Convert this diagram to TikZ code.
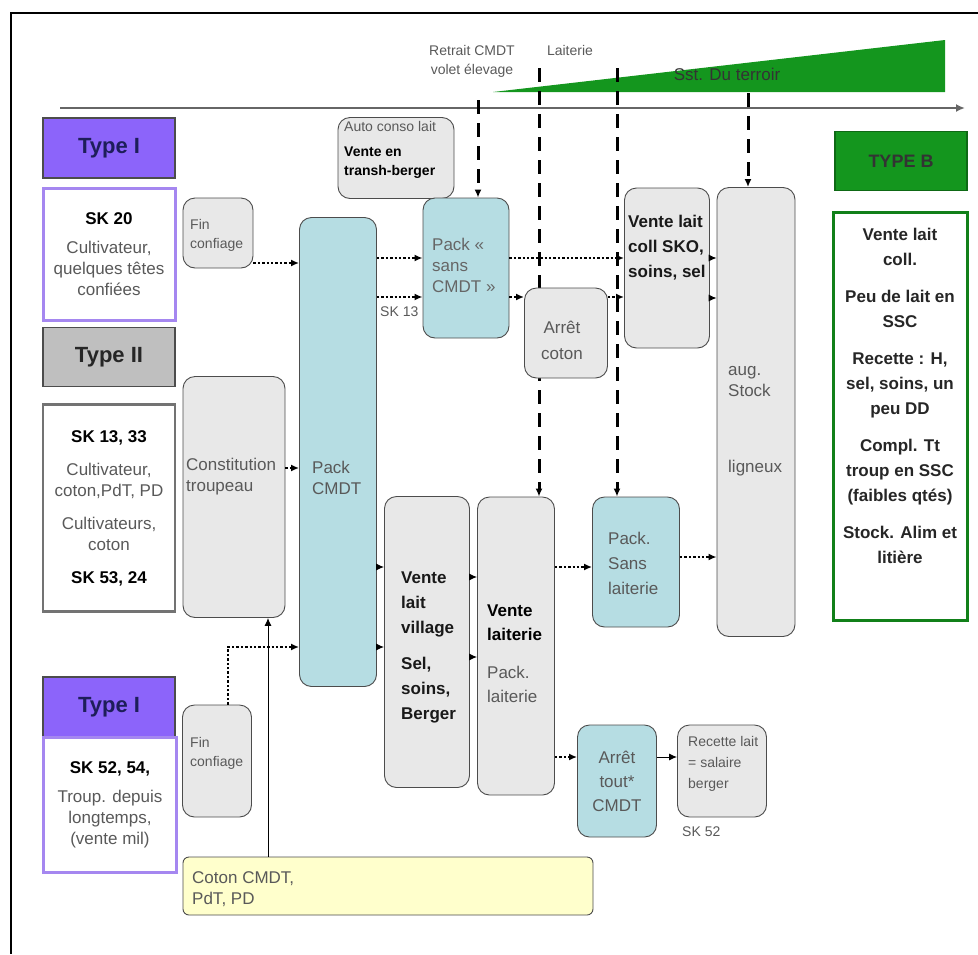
\documentclass[tikz,border=0pt]{standalone}
\usepackage{fontspec}
\setmainfont{Liberation Sans}
\usetikzlibrary{arrows.meta,positioning,calc}
\definecolor{gr}{RGB}{232,232,232}
\definecolor{te}{RGB}{182,221,227}
\definecolor{pu}{RGB}{140,100,250}
\definecolor{pl}{RGB}{165,135,240}
\definecolor{gn}{RGB}{20,150,30}
\definecolor{ye}{RGB}{255,255,204}
\definecolor{nv}{RGB}{30,30,90}
\newcommand{\skb}[1]{{\color{black}\bfseries #1}}

\begin{document}
\begin{tikzpicture}[x=1pt,y=-1pt,
    box/.style={draw=black!70, line width=0.9pt, rounded corners=12pt, inner sep=0pt},
    gbox/.style={box, fill=gr},
    tbox/.style={box, fill=te},
    hd/.style={draw=black!70, line width=1.4pt, font=\fontsize{22}{26}\selectfont\bfseries, text=nv},
    txt/.style={font=\fontsize{17}{21}\selectfont, text=black!65, align=left, inner sep=0pt},
    bold/.style={font=\fontsize{17}{25}\selectfont\bfseries, text=black!90, align=left, inner sep=0pt},
    small/.style={font=\fontsize{14}{19}\selectfont, text=black!65, align=left, inner sep=0pt},
    dotarr/.style={line width=2.4pt, dotted, -{Latex[length=8pt,width=7pt]}},
    arr/.style={line width=1pt, -{Latex[length=8pt,width=7pt]}},
    dasharr/.style={line width=3pt, dash pattern=on 14pt off 9pt, -{Latex[length=8pt,width=7pt]}}]
    \useasboundingbox (0,0) rectangle (978,954);

    % frame
    \draw[line width=2.5pt] (978,13) -- (11,13) -- (11,954);

    % terroir wedge and top labels
    \fill[gn] (493,92) -- (945,40) -- (945,92) -- cycle;
    \node[txt, text=black!80] (terroir) at (727,74) {Sst. Du terroir};
    \node[small, align=center] (retrait) at (472,61) {Retrait CMDT\\volet élevage};
    \node[small] (laiterie) at (570,50) {Laiterie};

    % time line
    \coordinate (tl0) at (60,108);
    \coordinate (tl1) at (965,108);
    \draw[line width=2pt, black!60, -{Latex[length=9pt,width=8pt]}] (tl0) -- (tl1);

    % left column
    \node[hd, fill=pu, minimum width=132pt, minimum height=60pt] (typeIa) at (109,148) {Type I};
    \node[txt, align=center, draw=pl, line width=3pt, fill=white, minimum width=132pt, minimum height=132pt] (sk20) at (109,254)
        {\skb{SK 20}\\[8pt]Cultivateur,\\quelques têtes\\confiées};
    \node[hd, fill=black!25, text=black!85, minimum width=132pt, minimum height=59pt] (typeII) at (109,357) {Type II};
    \node[txt, align=center, draw=black!55, line width=2.5pt, fill=white, minimum width=132pt, minimum height=207pt] (sk13) at (109,508)
        {\skb{SK 13, 33}\\[12pt]Cultivateur,\\coton,PdT, PD\\[12pt]Cultivateurs,\\coton\\[12pt]\skb{SK 53, 24}};
    \node[hd, fill=pu, minimum width=132pt, minimum height=60pt] (typeIb) at (109,707) {Type I};
    \node[txt, align=center, draw=pl, line width=3pt, fill=white, minimum width=133pt, minimum height=135pt] (sk52) at (110,805)
        {\skb{SK 52, 54,}\\[8pt]Troup. depuis\\longtemps,\\(vente mil)};

    % second column
    \node[gbox, minimum width=70pt, minimum height=70pt] (finA) at (218,233) {};
    \node[small, anchor=north west] (finAt) at (190,219) {Fin\\confiage};
    \node[gbox, minimum width=102pt, minimum height=241pt] (constit) at (234,497) {};
    \node[txt, anchor=west] (constitT) at (186,477) {Constitution\\troupeau};
    \node[gbox, minimum width=69pt, minimum height=112pt] (finB) at (217,761) {};
    \node[small, anchor=north west] (finBt) at (190,737) {Fin\\confiage};
    \node[box, fill=ye, rounded corners=6pt, minimum width=410pt, minimum height=58pt] (coton) at (388,886) {};
    \node[txt, anchor=west] (cotonT) at (192,889) {Coton CMDT,\\PdT, PD};

    % packs
    \node[tbox, minimum width=77pt, minimum height=469pt] (packCMDT) at (338,452) {};
    \node[txt, anchor=west] (packCMDTt) at (312,478) {Pack\\CMDT};
    \node[gbox, minimum width=116pt, minimum height=81pt] (auto) at (396,158) {};
    \node[font=\fontsize{14}{19}\selectfont, text=black!65, align=left, inner sep=0pt, anchor=north west] (autoT) at (344,121)
        {Auto conso lait\\[6pt]\skb{Vente en}\\\skb{transh-berger}};
    \node[tbox, minimum width=86pt, minimum height=140pt] (packSans) at (466,268) {};
    \node[txt, anchor=west, text=black!60] (packSansT) at (432,265) {Pack «\\sans\\CMDT »};
    \node[small, anchor=west] (sk13l) at (380,312) {SK 13};
    \node[gbox, minimum width=85pt, minimum height=160pt] (venteColl) at (667,268) {};
    \node[bold, anchor=north west] (venteCollT) at (628,215) {Vente lait\\coll SKO,\\soins, sel};
    \node[gbox, minimum width=78pt, minimum height=449pt] (augStock) at (756,412) {};
    \node[txt, anchor=west] (augStockT) at (728,382) {aug.\\Stock};
    \node[txt, anchor=west] (ligneux) at (728,468) {ligneux};

    % type B
    \node[hd, fill=gn, text=black!80, draw=gn!70!black, font=\fontsize{18}{22}\selectfont\bfseries, minimum width=132pt, minimum height=59pt] (typeB) at (901,161) {TYPE B};
    \node[draw=gn!85!black, line width=3pt, fill=white, minimum width=134pt, minimum height=408pt] (typeBbox) at (900,416) {};
    \node[bold, align=center, text=black!85] (typeBt) at (900,396)
        {Vente lait\\coll.\\[12pt]Peu de lait en\\SSC\\[12pt]Recette : H,\\sel, soins, un\\peu DD\\[12pt]Compl. Tt\\troup en SSC\\(faibles qtés)\\[12pt]Stock. Alim et\\litière};

    % lower boxes
    \node[gbox, minimum width=85pt, minimum height=291pt] (venteVillage) at (427,642) {};
    \node[bold, anchor=west] (venteVillageT) at (401,647) {Vente\\lait\\village\\[11pt]Sel,\\soins,\\Berger};
    \node[gbox, minimum width=77pt, minimum height=298pt] (venteLaiterie) at (516,646) {};
    \node[txt, anchor=west, font=\fontsize{17}{24}\selectfont] (venteLaiterieT) at (487,654) {\skb{Vente}\\\skb{laiterie}\\[14pt]Pack.\\laiterie};
    \node[tbox, minimum width=87pt, minimum height=130pt] (packSansLait) at (636,562) {};
    \node[txt, anchor=west, font=\fontsize{17}{25}\selectfont] (packSansLaitT) at (608,563) {Pack.\\Sans\\laiterie};
    \node[tbox, minimum width=79pt, minimum height=112pt] (arretTout) at (617,781) {};
    \node[txt, align=center, font=\fontsize{17}{24}\selectfont] (arretToutT) at (617,781) {Arrêt\\tout*\\CMDT};
    \node[gbox, minimum width=89pt, minimum height=92pt] (recette) at (722,771) {};
    \node[small, anchor=north west, font=\fontsize{14}{21}\selectfont] (recetteT) at (688,736) {Recette lait\\= salaire\\berger};
    \node[small, anchor=west] (sk52l) at (682,832) {SK 52};

    % dashed lines
    \coordinate (dA) at (478,100);
    \coordinate (dB) at (539,68);
    \coordinate (dC) at (617,68);
    \coordinate (dD) at (748,93);
    \draw[dasharr] (dA) -- (dA |- packSans.north);
    \draw[dasharr] (dB) -- (dB |- venteLaiterie.north);
    \draw[dasharr] (dC) -- (dC |- packSansLait.north);
    \draw[dasharr] (dD) -- (dD |- augStock.north);

    \node[gbox, minimum width=83pt, minimum height=90pt] (arretCoton) at (566,333) {};
    \node[txt, align=center, font=\fontsize{17}{26}\selectfont] (arretCotonT) at (562,340) {Arrêt\\coton};

    % connectors
    \draw[dotarr] (finA.east |- 0,263) -- (packCMDT.west |- 0,263);
    \draw[dotarr] (constit.east |- 0,468) -- (packCMDT.west |- 0,468);
    \draw[dotarr] ([xshift=11pt]finB.north) |- (packCMDT.west |- 0,647);
    \draw[arr] (coton.north -| 268,0) -- (constit.south -| 268,0);
    \draw[dotarr] (packCMDT.east |- 0,258) -- (packSans.west |- 0,258);
    \draw[dotarr] (packCMDT.east |- 0,297) -- (packSans.west |- 0,297);
    \draw[dotarr] (packSans.east |- 0,258) -- (venteColl.west |- 0,258);
    \draw[dotarr] (packSans.east |- 0,297) -- (arretCoton.west |- 0,297);
    \draw[dotarr] (arretCoton.east |- 0,297) -- (venteColl.west |- 0,297);
    \draw[arr] (venteColl.east |- 0,258) -- (augStock.west |- 0,258);
    \draw[arr] (venteColl.east |- 0,298) -- (augStock.west |- 0,298);
    \draw[arr] (packCMDT.east |- 0,567) -- (venteVillage.west |- 0,567);
    \draw[arr] (packCMDT.east |- 0,647) -- (venteVillage.west |- 0,647);
    \draw[arr] (venteVillage.east |- 0,577) -- (venteLaiterie.west |- 0,577);
    \draw[arr] (venteVillage.east |- 0,657) -- (venteLaiterie.west |- 0,657);
    \draw[dotarr] (venteLaiterie.east |- 0,567) -- (packSansLait.west |- 0,567);
    \draw[dotarr] (packSansLait.east |- 0,557) -- (augStock.west |- 0,557);
    \draw[dotarr] (venteLaiterie.east |- 0,757) -- (arretTout.west |- 0,757);
    \draw[arr] (arretTout.east |- 0,757) -- (recette.west |- 0,757);
\end{tikzpicture}
\end{document}
